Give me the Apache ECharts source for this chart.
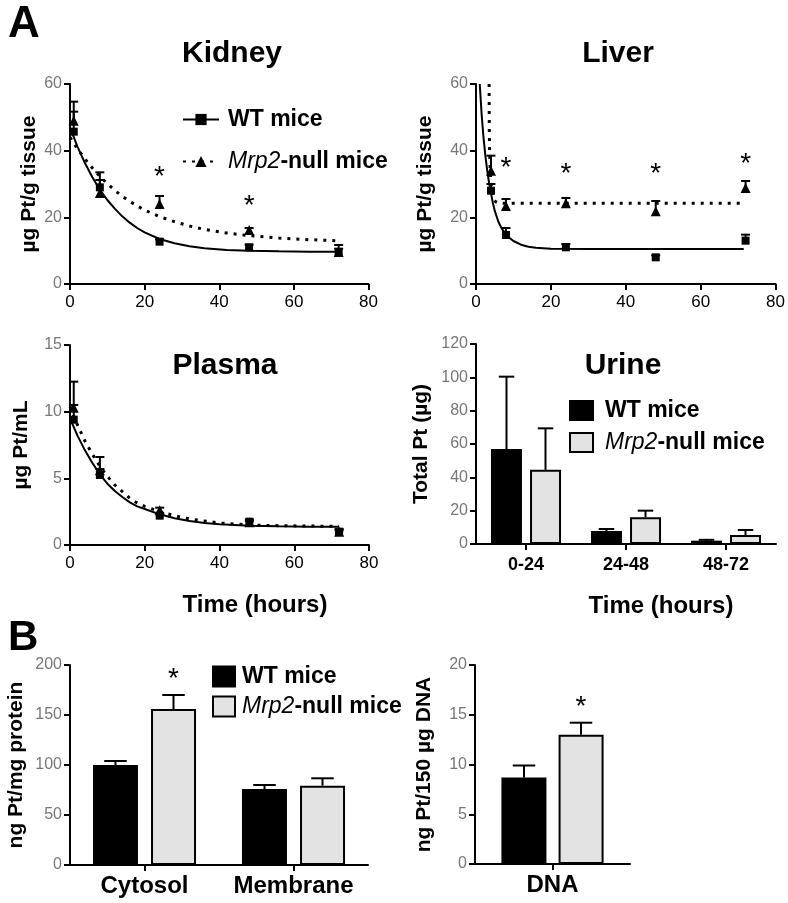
<!DOCTYPE html>
<html><head><meta charset="utf-8">
<script src="https://cdn.jsdelivr.net/npm/echarts@6/dist/echarts.min.js"></script>
<style>html,body{margin:0;padding:0;background:#fff}#c{width:788px;height:903px}</style>
</head><body><div id="c"></div>
<script>
// ---------------- data ----------------
// Kidney (µg Pt/g tissue)
const kidneyTimes = [1, 8, 24, 48, 72];
const kidneyWT = [45.7, 29.0, 12.7, 11.0, 9.3];
const kidneyWTUpper = [51.7, 31.2, 13.4, 11.8, 11.7];
const kidneyNull = [49.0, 27.3, 24.0, 16.2, 9.6];
const kidneyNullUpper = [54.7, 33.5, 26.4, 16.8, 10.6];
const kidneyFitTimes = [0, 2, 4, 6, 8, 10, 12, 14, 16, 18, 20, 24, 28, 32, 36, 42, 48, 56, 64, 72];
const kidneyFitWT = [47, 41.2, 36.3, 32, 28.3, 25.2, 22.6, 20.3, 18.4, 16.8, 15.5, 13.5, 12.2, 11.3, 10.7, 10.2, 9.95, 9.8, 9.7, 9.65];
const kidneyFitNullTimes = [0, 2, 4, 6, 8, 10, 12, 14, 16, 18, 20, 24, 28, 32, 36, 42, 48, 56, 64, 71.3];
const kidneyFitNull = [44, 40.6, 37.5, 34.8, 32.3, 30.1, 28.1, 26.3, 24.8, 23.4, 22.2, 20.2, 18.7, 17.4, 16.4, 15.3, 14.5, 13.8, 13.3, 13.0];
const kidneyStars = [[24, 33.7], [48, 25.2]];

// Liver (µg Pt/g tissue)
const liverTimes = [4, 8, 24, 48, 72];
const liverWT = [28.0, 14.7, 11.0, 8.0, 13.0];
const liverWTUpper = [30.0, 16.8, 12.0, 8.6, 14.8];
const liverNull = [34.0, 23.4, 24.2, 21.8, 28.8];
const liverNullUpper = [38.5, 25.5, 25.8, 24.9, 30.9];
const liverFitWTTimes = [1, 1.5, 2, 2.5, 3, 3.5, 4, 4.5, 5, 6, 7, 8, 9, 10, 12, 14, 16, 20, 30, 71.5];
const liverFitWT = [60, 51, 44, 38.5, 34, 30.3, 27.2, 24.4, 22, 18.6, 16.4, 15, 13.8, 12.9, 11.8, 11.2, 10.9, 10.6, 10.5, 10.5];
const liverFitNullTimes = [3.5, 3.55, 3.65, 3.8, 4, 4.3, 4.7, 5.2, 6, 8, 71.9];
const liverFitNull = [60, 46, 39, 34, 30.5, 27.5, 25.6, 24.7, 24.3, 24.2, 24.2];
const liverStars = [[8, 36.4], [24, 34.8], [48, 34.8], [72, 37.8]];

// Plasma (µg Pt/mL)
const plasmaTimes = [1, 8, 24, 48, 72];
const plasmaWT = [9.4, 5.25, 2.2, 1.75, 1.0];
const plasmaWTUpper = [10.5, 5.7, 2.4, 1.9, 1.2];
const plasmaNull = [10.3, 5.6, 2.6, 1.7, 1.0];
const plasmaNullUpper = [12.25, 6.6, 2.8, 1.8, 1.1];
const plasmaFitTimes = [0, 2, 4, 6, 8, 10, 12, 14, 16, 18, 20, 24, 28, 32, 36, 40, 48, 56, 64, 72];
const plasmaFitWT = [9.5, 8.2, 7.1, 6.15, 5.3, 4.6, 4.05, 3.6, 3.2, 2.9, 2.7, 2.3, 2.0, 1.8, 1.65, 1.55, 1.45, 1.4, 1.37, 1.36];
const plasmaFitNull = [10.4, 9.0, 7.8, 6.8, 5.9, 5.15, 4.5, 4.0, 3.5, 3.15, 2.9, 2.5, 2.2, 1.95, 1.8, 1.65, 1.5, 1.45, 1.42, 1.4];

// Urine (total Pt, µg)
const urineCats = ['0-24', '24-48', '48-72'];
const urineWT = [57, 7.8, 2.0];
const urineWTUpper = [100.4, 9.0, 2.5];
const urineNull = [44.5, 16, 5.4];
const urineNullUpper = [69.4, 20, 8.4];

// B: subcellular (ng Pt/mg protein)
const cellCats = ['Cytosol', 'Membrane'];
const cellWT = [100, 76];
const cellWTUpper = [104, 80];
const cellNull = [156, 79.3];
const cellNullUpper = [170, 86.7];
const cellStars = [[0, 192]];

// B: DNA (ng Pt/150 µg DNA)
const dnaCats = ['DNA'];
const dnaWT = [8.7];
const dnaWTUpper = [9.9];
const dnaNull = [13.0];
const dnaNullUpper = [14.2];
const dnaStars = [[0, 16.4]];

// ---------------- helpers ----------------
const FF = '"Liberation Sans", Arial, Helvetica, sans-serif';
const zip = (a, b) => a.map((v, i) => [v, b[i]]);
const zip3 = (a, b, c) => a.map((v, i) => [v, b[i], c[i]]);
const idx = arr => arr.map((_, i) => i);

function errRender(dx, capHalf) {
  return function (params, api) {
    const c = api.value(0), m = api.value(1), u = api.value(2);
    const p1 = api.coord([c, m]);
    const p2 = api.coord([c, u]);
    const x = p1[0] + dx;
    const st = { stroke: '#000', lineWidth: 2 };
    return { type: 'group', children: [
      { type: 'line', shape: { x1: x, y1: p1[1], x2: x, y2: p2[1] }, style: st },
      { type: 'line', shape: { x1: x - capHalf, y1: p2[1], x2: x + capHalf, y2: p2[1] }, style: st }
    ]};
  };
}
function starRender(dx) {
  return function (params, api) {
    const p = api.coord([api.value(0), api.value(1)]);
    return { type: 'text', x: p[0] + dx, y: p[1] + 6,
      style: { text: '*', fontSize: 28, fontFamily: FF, fill: '#000', align: 'center', verticalAlign: 'middle' } };
  };
}

const axisLine = { show: true, lineStyle: { color: '#000', width: 2 } };
const axisTick = { show: true, length: 6, lineStyle: { color: '#000', width: 2 } };
const yLabel = { fontSize: 16, color: '#777', fontFamily: FF, margin: 8 };
const xNumLabel = { fontSize: 17, color: '#000', fontFamily: FF, margin: 10 };
const nameStyle = { fontSize: 21, fontWeight: 'bold', color: '#000', fontFamily: FF };

function timeX(g) {
  return { type: 'value', gridIndex: g, min: 0, max: 80, interval: 20, axisLine, axisTick,
    axisLabel: xNumLabel, splitLine: { show: false } };
}
function valY(g, max, interval, name, gap) {
  return { type: 'value', gridIndex: g, min: 0, max, interval, axisLine, axisTick,
    axisLabel: yLabel, splitLine: { show: false },
    name, nameLocation: 'middle', nameRotate: 90, nameGap: gap, nameTextStyle: nameStyle };
}
function catX(g, data, fs, margin) {
  return { type: 'category', gridIndex: g, data, axisLine,
    axisTick: { ...axisTick, alignWithLabel: true },
    axisLabel: { interval: 0, fontSize: fs, fontWeight: 'bold', color: '#000', fontFamily: FF, margin } };
}

const series = [];
function pointPanel(g, times, wt, wtU, nl, nlU, fitWTt, fitWT, fitNt, fitN, stars, legendNames) {
  series.push({ type: 'custom', xAxisIndex: g, yAxisIndex: g, renderItem: errRender(0, 4.5),
    data: zip3(times, wt, wtU), z: 3, silent: true, clip: false });
  series.push({ type: 'custom', xAxisIndex: g, yAxisIndex: g, renderItem: errRender(0, 4.5),
    data: zip3(times, nl, nlU), z: 3, silent: true, clip: false });
  series.push({ name: legendNames[0], type: 'line', xAxisIndex: g, yAxisIndex: g, data: zip(fitWTt, fitWT),
    smooth: false, symbol: 'rect', symbolSize: 11, showSymbol: false,
    lineStyle: { color: '#000', width: 2 }, itemStyle: { color: '#000' }, silent: true, z: 2 });
  series.push({ name: legendNames[1], type: 'line', xAxisIndex: g, yAxisIndex: g, data: zip(fitNt, fitN),
    smooth: false, symbol: 'triangle', symbolSize: 12, showSymbol: false,
    lineStyle: { color: '#000', width: 3, type: [3, 6] }, itemStyle: { color: '#000' }, silent: true, z: 2 });
  series.push({ type: 'scatter', xAxisIndex: g, yAxisIndex: g, data: zip(times, wt), symbol: 'rect',
    symbolSize: 8, itemStyle: { color: '#000', opacity: 1 }, z: 4, silent: true });
  series.push({ type: 'scatter', xAxisIndex: g, yAxisIndex: g, data: zip(times, nl), symbol: 'triangle',
    symbolSize: 10, itemStyle: { color: '#000', opacity: 1 }, z: 4, silent: true });
  if (stars) series.push({ type: 'custom', xAxisIndex: g, yAxisIndex: g, renderItem: starRender(0),
    data: stars, z: 5, silent: true, clip: false });
}
function barPanel(g, cats, wt, wtU, nl, nlU, bw, gapPct, off, stars, names) {
  series.push({ name: names[0], type: 'bar', xAxisIndex: g, yAxisIndex: g, data: wt, barWidth: bw, barGap: gapPct,
    itemStyle: { color: '#000', borderColor: '#000', borderWidth: 2 }, silent: true });
  series.push({ name: names[1], type: 'bar', xAxisIndex: g, yAxisIndex: g, data: nl, barWidth: bw, barGap: gapPct,
    itemStyle: { color: '#e3e3e3', borderColor: '#000', borderWidth: 2 }, silent: true });
  series.push({ type: 'custom', xAxisIndex: g, yAxisIndex: g, renderItem: errRender(-off, bw / 4),
    data: zip3(idx(cats), wt, wtU), z: 3, silent: true, clip: false });
  series.push({ type: 'custom', xAxisIndex: g, yAxisIndex: g, renderItem: errRender(off, bw / 4),
    data: zip3(idx(cats), nl, nlU), z: 3, silent: true, clip: false });
  if (stars) series.push({ type: 'custom', xAxisIndex: g, yAxisIndex: g, renderItem: starRender(off),
    data: stars, z: 5, silent: true, clip: false });
}

pointPanel(0, kidneyTimes, kidneyWT, kidneyWTUpper, kidneyNull, kidneyNullUpper,
  kidneyFitTimes, kidneyFitWT, kidneyFitNullTimes, kidneyFitNull, kidneyStars, ['WT-k', 'Null-k']);
pointPanel(1, liverTimes, liverWT, liverWTUpper, liverNull, liverNullUpper,
  liverFitWTTimes, liverFitWT, liverFitNullTimes, liverFitNull, liverStars, ['WT-l', 'Null-l']);
pointPanel(2, plasmaTimes, plasmaWT, plasmaWTUpper, plasmaNull, plasmaNullUpper,
  plasmaFitTimes, plasmaFitWT, plasmaFitTimes, plasmaFitNull, null, ['WT-p', 'Null-p']);
barPanel(3, urineCats, urineWT, urineWTUpper, urineNull, urineNullUpper, 31, '26%', 19.5, null, ['WT-u', 'Null-u']);
barPanel(4, cellCats, cellWT, cellWTUpper, cellNull, cellNullUpper, 45, '29%', 29, cellStars, ['WT-b', 'Null-b']);
barPanel(5, dnaCats, dnaWT, dnaWTUpper, dnaNull, dnaNullUpper, 45, '27%', 28.5, dnaStars, ['WT-d', 'Null-d']);

const legendFmt = n => n.indexOf('WT') === 0 ? 'WT mice' : '{i|Mrp2}-null mice';
function legend(left, top, names, w, h, gap, pad, icon) {
  const l = { left, top, orient: 'vertical', itemWidth: w, itemHeight: h, itemGap: gap, data: names,
    formatter: legendFmt, selectedMode: false,
    textStyle: { fontSize: 23, fontWeight: 'bold', color: '#000', fontFamily: FF, padding: [0, 0, 0, pad],
      rich: { i: { fontSize: 23, fontStyle: 'italic', fontWeight: 'normal', color: '#000', fontFamily: FF } } } };
  if (icon) l.icon = icon;
  return l;
}

function ttl(text, left, top, size, align) {
  return { text, left, top, textAlign: align || 'center',
    textStyle: { fontSize: size, fontWeight: 'bold', color: '#000', fontFamily: FF } };
}

const option = {
  animation: false,
  backgroundColor: '#fff',
  title: [
    ttl('A', 3, -2, 44, 'left'),
    ttl('B', 3, 612, 42, 'left'),
    ttl('Kidney', 227, 34, 30),
    ttl('Liver', 613, 34, 30),
    ttl('Plasma', 220, 346, 30),
    ttl('Urine', 618, 346, 30),
    ttl('Time (hours)', 250, 588, 24),
    ttl('Time (hours)', 656, 589, 24)
  ],
  legend: [
    legend(177, 103, ['WT-k', 'Null-k'], 36, 14, 19, 4),
    legend(564, 394, ['WT-u', 'Null-u'], 23, 19, 9, 7, 'rect'),
    legend(207, 660, ['WT-b', 'Null-b'], 22, 20, 7, 2, 'rect')
  ],
  grid: [
    { left: 70, top: 84, width: 298.5, height: 200 },
    { left: 476, top: 84, width: 300, height: 200 },
    { left: 70, top: 345, width: 299, height: 200 },
    { left: 476, top: 344, width: 300, height: 200 },
    { left: 70, top: 665, width: 298, height: 200 },
    { left: 475, top: 665, width: 155, height: 199 }
  ],
  xAxis: [
    timeX(0), timeX(1), timeX(2),
    catX(3, urineCats, 18, 12),
    catX(4, cellCats, 24, 9),
    catX(5, dnaCats, 24, 9)
  ],
  yAxis: [
    valY(0, 60, 20, 'µg Pt/g tissue', 30),
    valY(1, 60, 20, 'µg Pt/g tissue', 40),
    valY(2, 15, 5, 'µg Pt/mL', 38),
    valY(3, 120, 20, 'Total Pt (µg)', 44),
    valY(4, 200, 50, 'ng Pt/mg protein', 43),
    valY(5, 20, 5, 'ng Pt/150 µg DNA', 40)
  ],
  series
};

const chart = echarts.init(document.getElementById('c'), null, { renderer: 'canvas' });
chart.setOption(option);
</script>
</body></html>
